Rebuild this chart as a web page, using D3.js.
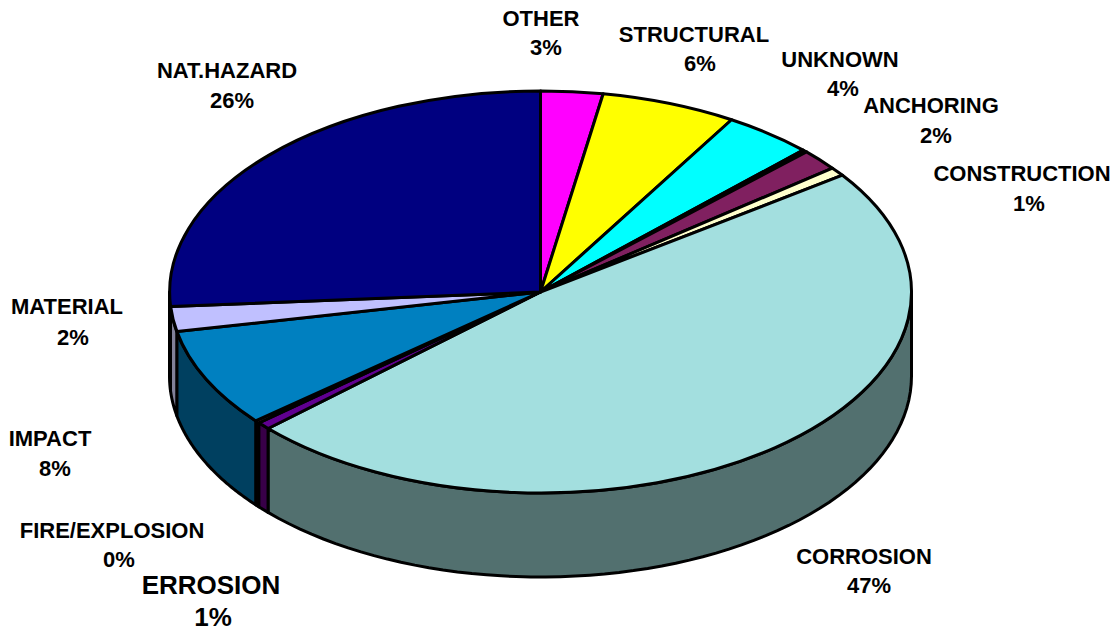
<!DOCTYPE html>
<html>
<head>
<meta charset="utf-8">
<script src="https://cdn.jsdelivr.net/npm/d3@7"></script>
<style>
  body { margin: 0; background: #fff; }
  text { font-family: "Liberation Sans", Arial, sans-serif; font-weight: bold; fill: #000; text-anchor: middle; }
</style>
</head>
<body>
<div class="chart"></div>
<script>
// slices, clockwise from 12 o'clock
var categories = ['OTHER', 'STRUCTURAL', 'UNKNOWN', '', 'ANCHORING', 'CONSTRUCTION', 'CORROSION', 'ERROSION', 'FIRE/EXPLOSION', 'IMPACT', 'MATERIAL', 'NAT.HAZARD'];
var values = [2.7, 5.9, 3.9, 0.2, 1.7, 0.7, 47.9, 0.6, 0.2, 7.9, 2.0, 26.1];
var percentLabels = ['3%', '6%', '4%', '', '2%', '1%', '47%', '1%', '0%', '8%', '2%', '26%'];

var topColors = ['#ff00ff', '#ffff00', '#00ffff', '#8080ff', '#802060', '#ffffcc', '#a3dfdf', '#600090', '#ff8080', '#0080c0', '#c0c0ff', '#000080'];
var sideColors = ['#800080', '#808000', '#008080', '#404080', '#401030', '#808066', '#52706f', '#380048', '#804040', '#004060', '#808098', '#000040'];

// label centres: name x, name y, percent x, percent y, font size
var labelLayout = [
  [541, 18, 546, 47, 22],
  [694, 34, 700, 63, 22],
  [840, 59, 843, 88, 22],
  null,
  [931, 105, 936, 135, 22],
  [1022, 173, 1029, 203, 22],
  [864, 556, 869, 585, 22],
  [211, 585, 213, 617, 26],
  [112, 530, 119, 559, 22],
  [50, 438, 55, 468, 22],
  [67, 306, 73, 337, 22],
  [227, 70, 232, 100, 22]
];

var width = 1116;
var height = 631;
var cx = 540.5;
var cy = 292;
var rx = 371;
var ry = 201;
var depth = 84;

var x = d3.scaleLinear().domain([-1, 1]).range([cx - rx, cx + rx]);
var y = d3.scaleLinear().domain([-1, 1]).range([cy - ry, cy + ry]);

var slices = d3.pie().sort(null).value(function(d) { return d; })(values);

var svg = d3.select('.chart').append('svg')
  .attr('width', width)
  .attr('height', height)
  .style('display', 'block');

// the rim: only the front half of the disc can be seen
var rimPoint = function(a, dz) {
  return [x(Math.sin(a)), y(-Math.cos(a)) + dz];
};

function rimPath(d) {
  var a0 = Math.max(d.startAngle, Math.PI / 2);
  var a1 = Math.min(d.endAngle, Math.PI * 3 / 2);
  if (a1 <= a0) return null;
  var steps = d3.range(0, 1.0001, 1 / 60).map(function(t) { return a0 + (a1 - a0) * t; });
  var pts = steps.map(function(a) { return rimPoint(a, 0); })
    .concat(steps.slice().reverse().map(function(a) { return rimPoint(a, depth); }));
  return d3.line()(pts) + 'Z';
}

svg.append('g').selectAll('path')
  .data(slices)
  .enter().append('path')
    .attr('d', rimPath)
    .attr('fill', function(d, i) { return sideColors[i]; })
    .attr('stroke', '#000')
    .attr('stroke-width', 3)
    .attr('stroke-linejoin', 'round');

var arc = d3.arc().innerRadius(0).outerRadius(1);

svg.append('g')
    .attr('transform', 'translate(' + cx + ',' + cy + ') scale(' + rx + ',' + ry + ')')
  .selectAll('path')
  .data(slices)
  .enter().append('path')
    .attr('d', arc)
    .attr('fill', function(d, i) { return topColors[i]; })
    .attr('stroke', '#000')
    .attr('stroke-width', 3)
    .attr('stroke-linejoin', 'round')
    .attr('vector-effect', 'non-scaling-stroke');

var labels = svg.append('g').selectAll('g')
  .data(categories.map(function(c, i) { return i; }).filter(function(i) { return categories[i]; }))
  .enter().append('g');

labels.append('text')
  .attr('x', function(i) { return labelLayout[i][0]; })
  .attr('y', function(i) { return labelLayout[i][1]; })
  .attr('dy', '0.35em')
  .style('font-size', function(i) { return labelLayout[i][4] + 'px'; })
  .text(function(i) { return categories[i]; });

labels.append('text')
  .attr('x', function(i) { return labelLayout[i][2]; })
  .attr('y', function(i) { return labelLayout[i][3]; })
  .attr('dy', '0.35em')
  .style('font-size', function(i) { return labelLayout[i][4] + 'px'; })
  .text(function(i) { return percentLabels[i]; });
</script>
</body>
</html>
